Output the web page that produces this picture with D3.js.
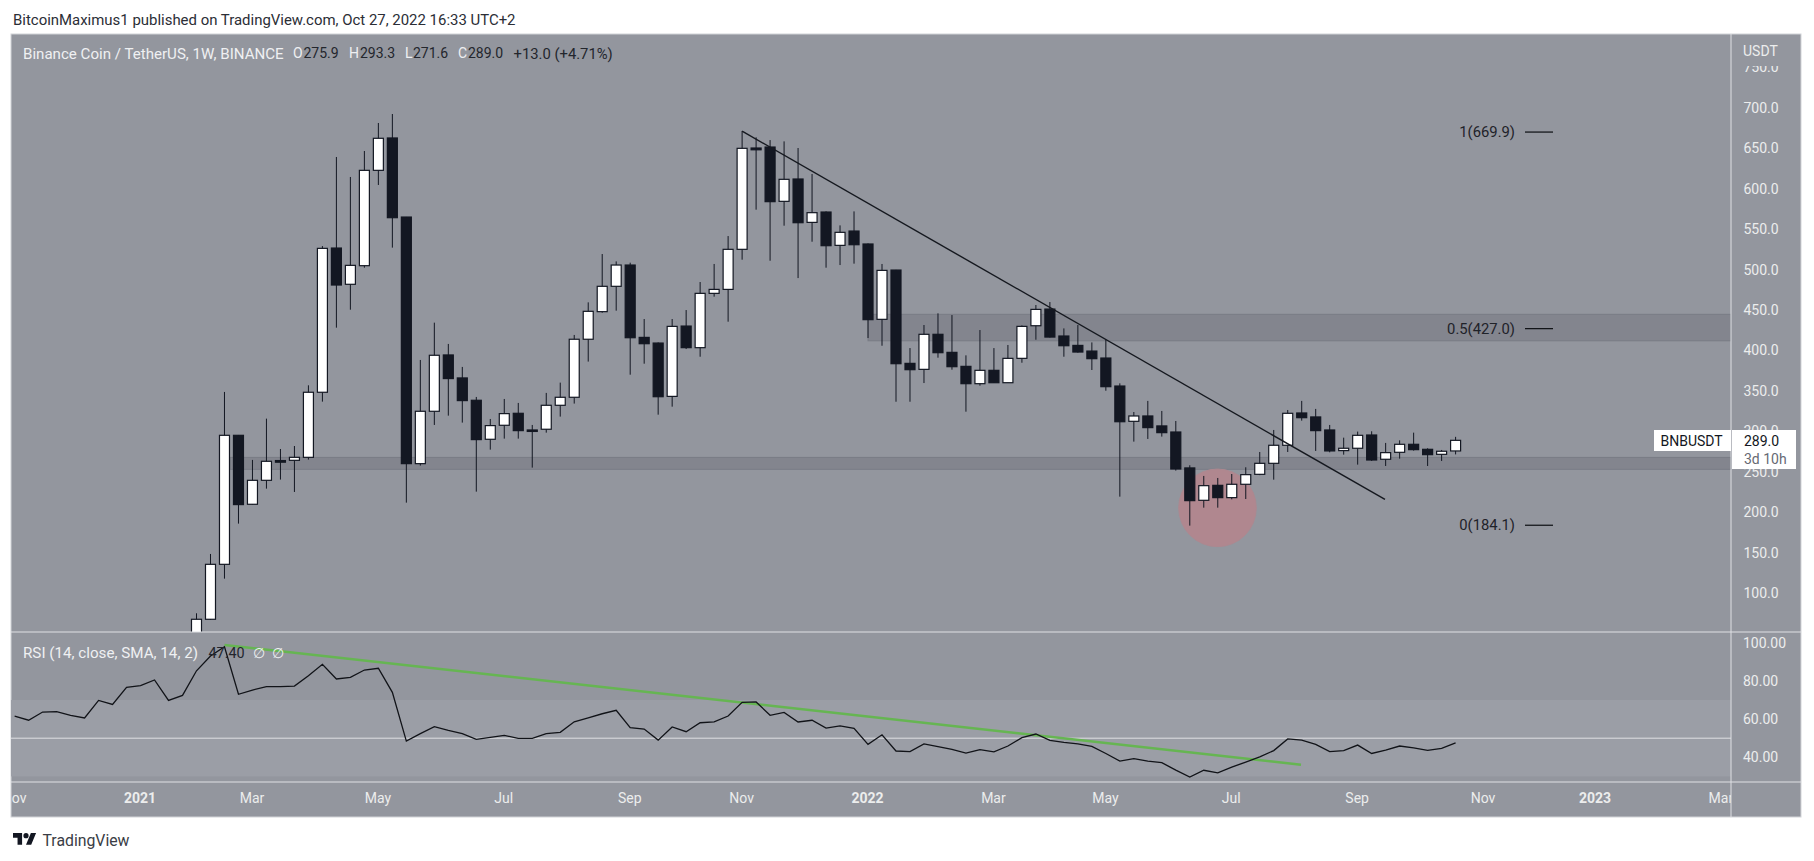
<!DOCTYPE html>
<html>
<head>
<meta charset="utf-8">
<script src="https://cdnjs.cloudflare.com/ajax/libs/d3/7.8.5/d3.min.js"></script>
<style>
html, body { margin: 0; padding: 0; background: #fff; }
svg { display: block; }
text { font-family: Roboto, "Noto Sans", sans-serif; }
.axis path, .axis line { display: none; }
</style>
</head>
<body>
<div id="chart"></div>
<script>
// weekly candles, index 0 is the week of Feb 1 2021
var opens = [48,67.9,135.8,295.2,210,239.6,264,264.3,268,348.4,526.6,481.8,504.8,622.6,662.6,564.9,260.2,324.9,394.5,366.1,338.5,290.3,307.6,322.4,301.8,302.7,332.3,342.2,413.9,448,479.3,505.6,416.2,409.2,343.3,430.2,403.5,470.6,475.5,525,650.2,651.4,584.3,611.9,558.3,571.1,529.9,547.6,531.6,438.5,499.4,384.1,376.7,420,397.7,380.4,359,375.5,360.2,390.3,430.6,451.2,417.9,406.3,399.3,390.7,356.1,312.5,319.1,306.8,299.3,254.9,214.9,233.4,218.2,234.7,247,260.6,282.9,322.8,317.9,301.8,276.3,279.2,295.6,265.6,274.2,284.1,277.9,271.7,275.9];
var highs = [75.3,148.6,348.8,295.6,264.8,315.8,278.3,282,357,529,639.1,614.4,646.5,681.1,692.2,565,388.3,434.4,408.1,379.7,342.6,315.4,340.1,335.2,308,347.6,360.3,419.2,459.5,519.2,510.1,508.5,438.9,410,438.9,450,484.6,506.9,541.4,671.2,663.4,660,658.4,650.2,618.1,572,554.6,571.9,532.4,506.9,499.6,403,431.5,445.9,443.8,394,425.3,403,406.8,431,456.2,459.9,427.3,431.5,410,413.8,359.4,324,337.7,325.3,312.9,258.2,245,242.5,247.4,255.7,274.6,301.8,326.5,337.7,327.8,308,292.3,299.8,300.2,285.8,289,298.5,279.2,277.1,293.3];
var lows = [45,67,118.1,186.1,209.6,229.3,240.5,225.2,265.2,336.8,428.2,450.4,502.3,604.5,527.1,212,257.8,308,319.5,310.9,225.6,277.5,291.1,291.1,255.3,298.5,318.3,334.4,386.3,446.7,449.2,370.1,383.7,320.7,330.6,401.8,392.3,466.5,435.6,512.2,574,510.9,554.2,489.5,534.4,502.3,505.6,507.3,415.4,405.9,336.7,336.7,359.8,391.1,376.3,324.4,356.5,360,360,384.9,413.3,416,392.3,397.3,375.9,350.3,219.4,287.4,290.7,293.6,251.6,183.6,205.8,205.8,216.1,216.5,246,240.4,274.6,313.3,275.9,274.2,271.3,259,263.5,257.3,266.4,276.3,257.3,263.5,271.6];
var closes = [67.9,135.8,295.2,209.6,239.6,263.1,262,268,348.4,526.2,480.9,505.2,622.6,662.2,564.1,260.2,324.9,394.1,365.3,338.1,289.9,307.2,322,301,300,332.3,342.2,413.9,448.4,479.3,505.6,415.8,408.4,342.9,429.8,403.5,470.6,475.5,525,649.8,648,583.9,611.5,557.9,570.3,529.5,546,530.7,438.1,499,383.7,376.3,420,397.3,380,359,375.5,360.2,390.3,429.8,450.8,416.6,405.9,398.1,389.9,355.3,312,319.1,304.7,298.5,253.6,214.5,233,218.2,234.7,246.6,260.6,282.9,322.4,317,301,275.9,279.2,295.2,264.7,273.8,284.1,277.5,271.3,275.5,289];

// rsi starts 13 weeks before the first candle
var rsiStart = -13;
var rsiValues = [61.6,59.4,63.7,63.9,62,60.6,69.8,67.7,76.6,77.5,80.5,69.8,72.4,85.3,93,97.9,73,75.2,77,77,77.3,82.7,88.7,81,81.9,85.7,86.6,74,48.5,52.4,56,54.1,52.4,49.4,50.4,51.5,49.9,49.9,52.4,53.1,58.6,60.7,62.8,64.6,55.5,54.8,49,55.9,53.4,58.1,58.5,61.6,68.8,69,62,63.5,58.5,59.4,55.3,56.5,55.2,46.8,51.8,43.3,43,47,45.6,44.2,42.2,44,42.8,45.9,50.3,52.2,48.9,47.8,47,45.7,42,38,39.3,38,37.2,33.3,29.7,33.2,31.9,34.9,37.5,40.2,43.5,49.6,49,46.8,43,43.5,46.4,42,43.8,45.9,44.9,43.6,44.7,47.6];

var priceTicks = [100,150,200,250,300,350,400,450,500,550,600,650,700,750];
var rsiTicks = [40,60,80,100];
var timeWeeks = [-13,-4,4,13,22,31,39,48,57,65,74,83,92,100,109];
var timeLabels = ["Nov","2021","Mar","May","Jul","Sep","Nov","2022","Mar","May","Jul","Sep","Nov","2023","Mar"];
var yearLabels = ["2021","2022","2023"];

var zones = [[267.9,253.2,2.4],[444.7,412,48]]; // top, bottom, first week
var fibLevels = [669.9,427.0,184.1];
var fibLabels = ["1(669.9)","0.5(427.0)","0(184.1)"];
var trendWeeks = [39,84.95], trendPrices = [671,216];
var rsiTrendWeeks = [2,78.95], rsiTrendValues = [98.8,36.1];

var bg = "#93969e", bgLight = "#9b9ea6", ink = "#131722", rule = "#dfe0e4", soft = "#eceded";

var svg = d3.select("#chart").append("svg").attr("width", 1814).attr("height", 861);

var left = 11, right = 1731, outer = 1801, top_ = 34, priceBottom = 632, rsiBottom = 782, bottom = 817;

var x = d3.scaleLinear().domain([0, 90]).range([196.5, 1455.6]);
var y = d3.scaleLinear().domain([100, 700]).range([593.3, 107.7]);
var yRsi = d3.scaleLinear().domain([40, 100]).range([757.3, 642.7]);

// panes
svg.append("rect").attr("x", left).attr("y", top_).attr("width", outer - left).attr("height", bottom - top_)
  .attr("fill", bg).attr("stroke", "#d2d4d8").attr("stroke-width", 1);
svg.append("rect").attr("x", left).attr("y", yRsi(70)).attr("width", right - left).attr("height", yRsi(30) - yRsi(70))
  .attr("fill", bgLight);

var defs = svg.append("defs");
defs.append("clipPath").attr("id", "clipPrice").append("rect")
  .attr("x", left).attr("y", top_).attr("width", right - left).attr("height", priceBottom - top_);
defs.append("clipPath").attr("id", "clipRsi").append("rect")
  .attr("x", left).attr("y", priceBottom).attr("width", right - left).attr("height", rsiBottom - priceBottom);
defs.append("clipPath").attr("id", "clipTime").append("rect")
  .attr("x", left).attr("y", rsiBottom).attr("width", right - left).attr("height", bottom - rsiBottom);
defs.append("clipPath").attr("id", "clipPriceAxis").append("rect")
  .attr("x", right).attr("y", 66).attr("width", outer - right).attr("height", priceBottom - 66);

var g = svg.append("g").attr("clip-path", "url(#clipPrice)");

// grey support / resistance zones
g.selectAll(".zone").data(zones).enter().append("rect")
  .attr("class", "zone")
  .attr("x", function(d) { return x(d[2]); })
  .attr("y", function(d) { return y(d[0]); })
  .attr("width", function(d) { return right - x(d[2]); })
  .attr("height", function(d) { return y(d[1]) - y(d[0]); })
  .attr("fill", "#83858e")
  .attr("stroke", "#797c85")
  .attr("stroke-width", 1);

// red circle
g.append("circle")
  .attr("cx", x(72.98)).attr("cy", y(205.6)).attr("r", 38.8)
  .attr("fill", "#b5858c").attr("fill-opacity", 0.85)
  .attr("stroke", "#ad8890").attr("stroke-width", 1);

// candles
var candles = g.selectAll(".candle").data(opens).enter().append("g").attr("class", "candle");

candles.append("line")
  .attr("x1", function(d, i) { return x(i); })
  .attr("x2", function(d, i) { return x(i); })
  .attr("y1", function(d, i) { return y(highs[i]); })
  .attr("y2", function(d, i) { return y(lows[i]); })
  .attr("stroke", ink).attr("stroke-width", 1);

candles.append("rect")
  .attr("x", function(d, i) { return x(i) - 5; })
  .attr("width", 10)
  .attr("y", function(d, i) { return y(Math.max(d, closes[i])); })
  .attr("height", function(d, i) { return Math.abs(y(d) - y(closes[i])); })
  .attr("fill", function(d, i) { return closes[i] >= d ? "#ffffff" : ink; })
  .attr("stroke", ink).attr("stroke-width", 1.2);

// falling trendline
g.append("line")
  .attr("x1", x(trendWeeks[0])).attr("y1", y(trendPrices[0]))
  .attr("x2", x(trendWeeks[1])).attr("y2", y(trendPrices[1]))
  .attr("stroke", "#15181f").attr("stroke-width", 1.4);

// fib labels
fibLevels.forEach(function(v, i) {
  g.append("text").attr("x", 1515).attr("y", y(v)).attr("dy", "0.35em").attr("text-anchor", "end")
    .attr("font-size", 14.8).attr("fill", "#1f2229").text(fibLabels[i]);
  g.append("line").attr("x1", 1525).attr("x2", 1553).attr("y1", y(v)).attr("y2", y(v))
    .attr("stroke", "#0c0e12").attr("stroke-width", 1.2);
});

// rsi pane
var rsiPane = svg.append("g").attr("clip-path", "url(#clipRsi)");
rsiPane.append("line").attr("x1", left).attr("x2", right).attr("y1", yRsi(50)).attr("y2", yRsi(50))
  .attr("stroke", rule).attr("stroke-width", 1);
rsiPane.append("line")
  .attr("x1", x(rsiTrendWeeks[0])).attr("y1", yRsi(rsiTrendValues[0]))
  .attr("x2", x(rsiTrendWeeks[1])).attr("y2", yRsi(rsiTrendValues[1]))
  .attr("stroke", "#66b552").attr("stroke-width", 2.4);
var rsiLine = d3.line()
  .x(function(d, i) { return x(i + rsiStart); })
  .y(function(d) { return yRsi(d); });
rsiPane.append("path").datum(rsiValues)
  .attr("d", rsiLine).attr("fill", "none").attr("stroke", "#111318").attr("stroke-width", 1.3);

// axes
var priceAxis = svg.append("g").attr("class", "axis").attr("clip-path", "url(#clipPriceAxis)")
  .attr("transform", "translate(0,0)")
  .append("g").attr("transform", "translate(" + right + ",0)")
  .call(d3.axisRight(y).tickValues(priceTicks).tickSize(0).tickPadding(12.5).tickFormat(d3.format(".1f")));
var rsiAxis = svg.append("g").attr("class", "axis").attr("transform", "translate(" + right + ",0)")
  .call(d3.axisRight(yRsi).tickValues(rsiTicks).tickSize(0).tickPadding(12).tickFormat(d3.format(".2f")));
var timeAxis = svg.append("g").attr("clip-path", "url(#clipTime)")
  .append("g").attr("class", "axis").attr("transform", "translate(-1," + rsiBottom + ")")
  .call(d3.axisBottom(x).tickValues(timeWeeks).tickSize(0).tickPadding(11)
    .tickFormat(function(d, i) { return timeLabels[i]; }));

svg.selectAll(".axis text").attr("font-family", null).attr("font-size", 14).attr("fill", soft);
timeAxis.selectAll("text")
  .attr("font-weight", function(d, i) { return yearLabels.indexOf(timeLabels[i]) >= 0 ? "bold" : "normal"; });

// pane separators
svg.append("line").attr("x1", left).attr("x2", outer).attr("y1", priceBottom).attr("y2", priceBottom).attr("stroke", rule);
svg.append("line").attr("x1", left).attr("x2", outer).attr("y1", rsiBottom).attr("y2", rsiBottom).attr("stroke", rule);
svg.append("line").attr("x1", right).attr("x2", right).attr("y1", top_).attr("y2", bottom).attr("stroke", rule);

svg.append("text").attr("x", 1743).attr("y", 51).attr("dy", "0.35em").attr("font-size", 14).attr("fill", soft).text("USDT");

// last price label
svg.append("rect").attr("x", 1654).attr("y", 430).attr("width", 77).attr("height", 21).attr("fill", "#fff");
svg.append("rect").attr("x", 1732).attr("y", 430).attr("width", 64).attr("height", 39).attr("fill", "#fff");
svg.append("text").attr("x", 1660.5).attr("y", 441).attr("dy", "0.35em").attr("font-size", 14).attr("fill", ink).text("BNBUSDT");
svg.append("text").attr("x", 1744).attr("y", 441).attr("dy", "0.35em").attr("font-size", 14).attr("fill", ink).text("289.0");
svg.append("text").attr("x", 1744).attr("y", 459).attr("dy", "0.35em").attr("font-size", 14).attr("fill", "#666a73").text("3d 10h");

// legend row of the price pane
var legendY = 53.5;
var legendParts = [
  [23, "Binance Coin / TetherUS, 1W, BINANCE", "#eff0f2", 15.1],
  [293, "O", "#eff0f2", 14], [303.5, "275.9", "#23262d", 14],
  [349, "H", "#eff0f2", 14], [360, "293.3", "#23262d", 14],
  [405, "L", "#eff0f2", 14], [413, "271.6", "#23262d", 14],
  [458, "C", "#eff0f2", 14], [468, "289.0", "#23262d", 14],
  [513.5, "+13.0 (+4.71%)", "#23262d", 14.8]
];
svg.selectAll(".legendPart").data(legendParts).enter().append("text")
  .attr("class", "legendPart")
  .attr("x", function(d) { return d[0]; }).attr("y", legendY).attr("dy", "0.35em")
  .attr("font-size", function(d) { return d[3]; }).attr("fill", function(d) { return d[2]; })
  .text(function(d) { return d[1]; });

var rsiLegend = [
  [23, "RSI (14, close, SMA, 14, 2)", "#eff0f2", 15.2],
  [208.5, "47.40", "#23262d", 14.4],
  [253, "\u2205", "#eff0f2", 14],
  [272, "\u2205", "#eff0f2", 14]
];
svg.selectAll(".rsiLegend").data(rsiLegend).enter().append("text")
  .attr("class", "rsiLegend")
  .attr("x", function(d) { return d[0]; }).attr("y", 653).attr("dy", "0.35em")
  .attr("font-size", function(d) { return d[3]; }).attr("fill", function(d) { return d[2]; })
  .text(function(d) { return d[1]; });

// header and footer
svg.append("text").attr("x", 13).attr("y", 20).attr("dy", "0.35em").attr("font-size", 14.95).attr("fill", "#2b2e36")
  .text("BitcoinMaximus1 published on TradingView.com, Oct 27, 2022 16:33 UTC+2");

var logo = svg.append("g").attr("transform", "translate(13,830.5) scale(0.65)").attr("fill", "#131722");
logo.append("path").attr("d", "M14 22H7V11H0V4h14v18zM28 22h-8l7.5-18h8L28 22z");
logo.append("circle").attr("cx", 20).attr("cy", 8).attr("r", 4);
svg.append("text").attr("x", 42.5).attr("y", 840).attr("dy", "0.35em").attr("font-size", 15.8).attr("fill", "#3a3d45").text("TradingView");
</script>
</body>
</html>
